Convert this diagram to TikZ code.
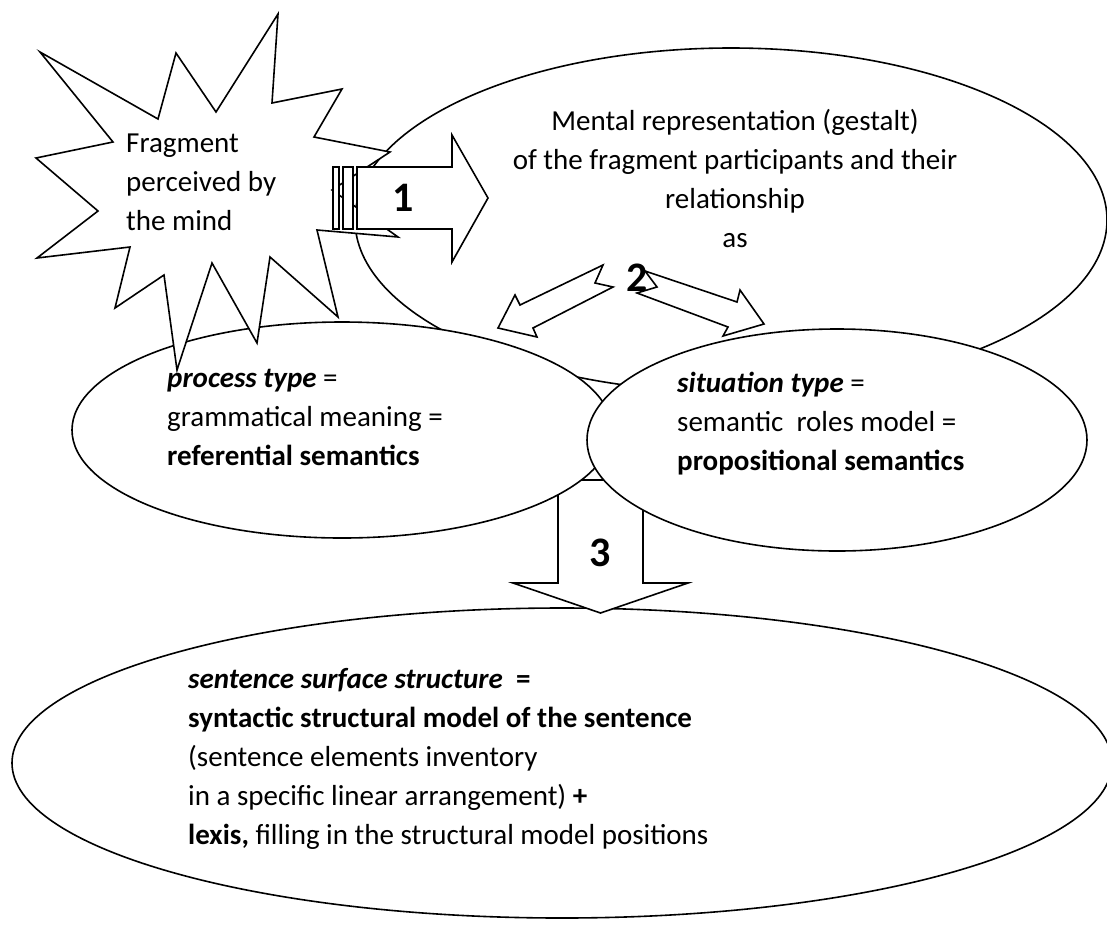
\documentclass[tikz,border=0pt]{standalone}
\usepackage{fontspec}
\setmainfont{Carlito}
\usepackage{tikz}

\tikzset{
  outline/.style={draw=black, line width=1.6pt, fill=white, line join=miter},
  bodytext/.style={inner sep=0pt, font=\fontsize{29}{39}\selectfont, align=left},
  numtext/.style={inner sep=0pt, font=\fontsize{42}{42}\selectfont\bfseries}
}

\begin{document}
\begin{tikzpicture}[x=1pt, y=-1pt]
\useasboundingbox (0,0) rectangle (1107,924);
\clip (0,0) rectangle (1107,924);

% sentence level and arrow 3
\draw [outline] (562,763) ellipse [x radius=550, y radius=155];
\draw [outline] (558,480) -- (643,480) -- (643,583) -- (688,583) -- (600.5,613) -- (513,583) -- (558,583) -- cycle;

% mental representation, process type, situation type
\draw [outline] (731,220) ellipse [x radius=376, y radius=172];
\draw [outline] (342,430) ellipse [x radius=270, y radius=108];
\draw [outline] (837,440) ellipse [x radius=250, y radius=111];

% fragment (explosion)
\draw [outline] (278,14) -- (272,103) -- (342,89) -- (314,137) -- (390,152) -- (332,190)
  -- (398,237) -- (317,230) -- (338,317) -- (270,257) -- (257,343) -- (212,263)
  -- (177,370) -- (164,275) -- (115,308) -- (130,247) -- (37,258) -- (98,211)
  -- (36,158) -- (113,142) -- (40,52) -- (158,119) -- (176,53) -- (216,112) -- cycle;

% arrow 1
\foreach \xa/\xb in {333/339, 343/353}
  \draw [outline] (\xa,167) rectangle (\xb,229);
\draw [outline] (357,167) -- (452,167) -- (452,135) -- (488,198) -- (452,262) -- (452,229) -- (357,229) -- cycle;

% arrows 2
\draw [outline] (603,265) -- (520,305) -- (515,295) -- (498,328) -- (537,337) -- (533,328) -- (613,287) -- (595,283) -- cycle;
\draw [outline] (645,271) -- (737,302) -- (740,290) -- (764,324) -- (723,336) -- (728,327) -- (637,293) -- (657,287) -- cycle;

% texts (base = last line)
\node [bodytext, anchor=base west] (fragment) at (126,230) {Fragment\\perceived by\\the mind};
\node [bodytext, align=center, anchor=base] (mental) at (735,247) {Mental representation (gestalt)\\of the fragment participants and their\\relationship\\as};
\node [bodytext, anchor=base west] (proc) at (167,465) {\textbf{\textit{process type}} =\\grammatical meaning =\\\textbf{referential semantics}};
\node [bodytext, anchor=base west] (sit) at (677,470) {\textbf{\textit{situation type}} =\\semantic\ \ roles model =\\\textbf{propositional semantics}};
\node [bodytext, anchor=base west] (surf) at (188,844) {\textbf{\textit{sentence surface structure}}\ \ \textbf{=}\\\textbf{syntactic structural model of the sentence}\\(sentence elements inventory\\in a specific linear arrangement) \textbf{+}\\\textbf{lexis,} filling in the structural model positions};

\node [numtext] (one) at (403,198) {1};
\node [numtext] (two) at (637,278) {2};
\node [numtext] (three) at (600.5,553) {3};
\end{tikzpicture}
\end{document}
